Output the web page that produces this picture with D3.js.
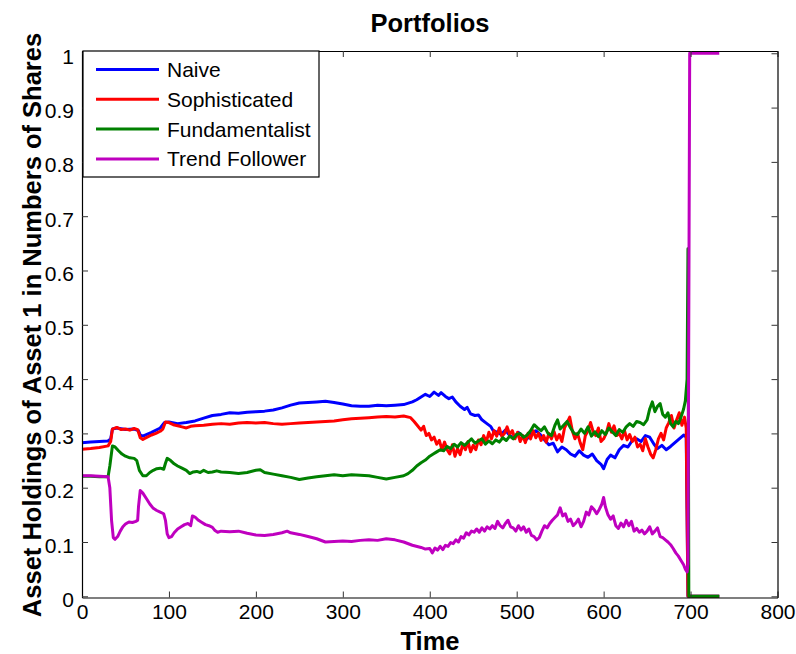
<!DOCTYPE html>
<html>
<head>
<meta charset="utf-8">
<script src="https://cdn.jsdelivr.net/npm/d3@7"></script>
<style>
  body { margin: 0; background: #fff; }
  text { font-family: "Liberation Sans", Arial, sans-serif; }
</style>
</head>
<body>
<div id="chart-area"></div>
<script>
// series as [time, holdings] pairs
var naive = [[0,.283],[10,.284],[20,.285],[30,.286],[33,.29],[35,.308],[40,.31],[50,.307],[60,.308],[65,.305],[67,.297],[70,.295],[80,.302],[90,.31],[95,.32],[100,.321],[110,.318],[120,.32],[130,.323],[140,.328],[150,.333],[160,.335],[170,.338],[180,.337],[190,.339],[200,.34],[210,.341],[220,.343],[230,.347],[240,.352],[250,.356],[260,.357],[270,.358],[280,.359],[290,.357],[300,.354],[310,.351],[320,.35],[330,.35],[340,.352],[350,.351],[360,.352],[370,.353],[380,.358],[385,.362],[390,.367],[395,.372],[400,.368],[405,.376],[410,.37],[413,.375],[418,.368],[422,.364],[426,.367],[430,.358],[435,.35],[440,.344],[443,.348],[447,.336],[452,.333],[456,.334],[460,.325],[465,.319],[470,.313],[473,.305],[478,.302],[482,.298],[487,.306],[492,.296],[497,.292],[502,.302],[507,.295],[512,.29],[517,.3],[522,.305],[527,.298],[532,.288],[537,.279],[542,.282],[547,.266],[552,.275],[557,.27],[562,.262],[567,.258],[572,.268],[577,.26],[582,.256],[587,.262],[592,.25],[597,.243],[600,.235],[604,.252],[608,.26],[613,.255],[618,.27],[623,.278],[628,.275],[633,.287],[638,.29],[643,.285],[648,.296],[653,.293],[658,.28],[662,.272],[667,.278],[672,.27],[677,.276],[682,.283],[687,.29],[692,.297],[695,.293],[697,0],[733,0]];

var sophisticated = [[0,.271],[10,.272],[20,.274],[30,.277],[33,.285],[35,.308],[40,.311],[45,.307],[50,.308],[55,.306],[60,.309],[64,.307],[67,.292],[70,.289],[75,.293],[80,.297],[85,.3],[90,.304],[93,.308],[96,.321],[100,.32],[105,.316],[110,.314],[115,.312],[120,.31],[125,.313],[130,.314],[140,.315],[150,.317],[160,.318],[170,.317],[180,.319],[190,.32],[200,.319],[210,.32],[220,.318],[230,.317],[240,.318],[250,.319],[260,.32],[270,.321],[280,.322],[290,.323],[300,.325],[310,.327],[320,.328],[330,.329],[340,.33],[350,.331],[360,.33],[370,.332],[378,.329],[382,.322],[386,.314],[390,.306],[393,.313],[396,.296],[399,.3],[402,.288],[405,.293],[408,.28],[411,.287],[414,.27],[417,.284],[420,.27],[423,.262],[426,.279],[429,.258],[432,.272],[435,.261],[438,.28],[441,.27],[444,.285],[447,.266],[450,.278],[453,.27],[456,.288],[459,.279],[462,.296],[465,.284],[468,.302],[471,.29],[474,.305],[477,.295],[480,.31],[483,.294],[486,.3],[489,.312],[492,.298],[495,.305],[498,.29],[501,.302],[504,.285],[507,.296],[510,.283],[513,.3],[516,.29],[519,.305],[522,.292],[525,.3],[528,.287],[531,.296],[534,.284],[537,.3],[540,.29],[543,.303],[546,.288],[549,.298],[552,.285],[555,.31],[558,.32],[561,.33],[564,.305],[567,.29],[570,.3],[573,.283],[576,.27],[579,.296],[582,.305],[585,.32],[588,.303],[591,.296],[594,.31],[597,.285],[600,.29],[603,.3],[606,.318],[609,.302],[612,.314],[615,.296],[618,.3],[621,.29],[624,.305],[627,.288],[630,.298],[633,.285],[636,.293],[639,.275],[642,.28],[645,.268],[648,.29],[651,.275],[654,.262],[657,.255],[660,.27],[663,.29],[666,.3],[669,.288],[672,.31],[675,.32],[678,.333],[681,.31],[684,.325],[687,.338],[690,.315],[693,.33],[695,.31],[697,0],[733,0]];

var fundamentalist = [[0,.221],[10,.221],[20,.22],[30,.22],[32,.24],[35,.277],[38,.275],[42,.268],[46,.262],[50,.258],[55,.255],[60,.254],[63,.25],[66,.232],[70,.222],[74,.222],[78,.228],[82,.232],[86,.235],[90,.236],[94,.234],[96,.245],[98,.254],[102,.25],[106,.244],[110,.24],[115,.236],[120,.232],[124,.226],[128,.229],[132,.23],[136,.228],[140,.232],[145,.228],[150,.229],[155,.231],[160,.229],[170,.228],[180,.226],[190,.228],[200,.232],[205,.233],[210,.228],[220,.225],[230,.222],[240,.219],[250,.215],[260,.218],[270,.22],[280,.222],[290,.224],[300,.222],[310,.224],[320,.223],[330,.222],[340,.219],[350,.216],[360,.219],[370,.222],[375,.226],[380,.232],[385,.24],[390,.246],[395,.251],[400,.258],[404,.262],[408,.266],[412,.27],[416,.268],[420,.276],[424,.272],[428,.28],[432,.275],[436,.283],[440,.278],[444,.284],[448,.29],[452,.282],[456,.286],[460,.29],[464,.28],[468,.286],[472,.281],[476,.288],[480,.284],[484,.292],[488,.287],[492,.295],[496,.29],[500,.298],[504,.3],[508,.293],[512,.297],[516,.305],[520,.316],[524,.31],[528,.305],[532,.312],[536,.3],[540,.296],[544,.315],[547,.325],[550,.308],[554,.315],[558,.322],[562,.31],[566,.3],[570,.298],[574,.308],[578,.3],[582,.312],[586,.295],[590,.303],[594,.294],[598,.305],[602,.298],[606,.31],[610,.303],[614,.296],[618,.307],[622,.302],[626,.312],[630,.318],[634,.313],[638,.322],[642,.32],[646,.316],[650,.325],[653,.345],[656,.358],[659,.34],[662,.35],[665,.355],[668,.335],[671,.33],[674,.338],[677,.318],[680,.312],[683,.322],[686,.318],[689,.33],[692,.345],[694,.36],[696,.4],[697,.64],[698,0],[733,0]];

var trendFollower = [[0,.222],[10,.222],[20,.221],[30,.22],[32,.2],[34,.14],[36,.108],[38,.105],[41,.11],[44,.12],[47,.128],[50,.133],[54,.137],[58,.136],[62,.138],[64,.14],[65,.165],[67,.195],[70,.19],[74,.18],[78,.17],[82,.162],[86,.158],[90,.155],[94,.152],[96,.14],[98,.115],[100,.108],[103,.11],[106,.117],[110,.124],[114,.128],[118,.132],[122,.134],[125,.13],[127,.148],[130,.146],[134,.14],[138,.136],[142,.132],[146,.13],[150,.127],[153,.121],[156,.118],[160,.12],[170,.119],[180,.12],[190,.116],[200,.113],[210,.112],[220,.114],[230,.117],[236,.12],[240,.117],[250,.114],[260,.11],[270,.106],[280,.1],[290,.101],[300,.102],[310,.101],[320,.103],[330,.104],[340,.103],[350,.106],[360,.104],[370,.1],[380,.094],[390,.09],[395,.087],[400,.088],[403,.08],[406,.089],[409,.085],[412,.092],[415,.086],[418,.094],[421,.092],[424,.099],[427,.097],[430,.104],[433,.1],[436,.11],[439,.107],[442,.117],[445,.113],[448,.12],[451,.118],[454,.124],[457,.118],[460,.126],[463,.12],[466,.128],[469,.124],[472,.13],[475,.125],[478,.138],[481,.13],[484,.126],[487,.134],[490,.14],[493,.128],[496,.126],[499,.12],[502,.13],[505,.122],[508,.128],[511,.118],[514,.124],[517,.112],[520,.11],[523,.104],[526,.108],[529,.12],[532,.13],[535,.126],[538,.134],[541,.14],[544,.145],[547,.15],[550,.163],[553,.148],[556,.152],[559,.138],[562,.142],[565,.13],[568,.135],[571,.142],[574,.128],[577,.138],[580,.155],[583,.15],[586,.165],[589,.16],[592,.152],[595,.16],[598,.17],[600,.182],[602,.165],[605,.15],[608,.142],[611,.148],[614,.13],[617,.125],[620,.135],[623,.128],[626,.14],[629,.13],[632,.138],[635,.12],[638,.125],[641,.118],[644,.122],[647,.115],[650,.12],[653,.128],[656,.115],[659,.12],[662,.126],[665,.11],[668,.108],[671,.104],[674,.1],[677,.095],[680,.088],[683,.08],[686,.074],[689,.066],[692,.058],[694,.05],[696,.045],[697,.06],[699,1],[733,1]];

var seriesNames = ["Naive", "Sophisticated", "Fundamentalist", "Trend Follower"];
var seriesColors = ["#0000ff", "#ff0000", "#008000", "#bf00bf"];
var seriesData = [naive, sophisticated, fundamentalist, trendFollower];

var xTicks = [0, 100, 200, 300, 400, 500, 600, 700, 800];
var yTicks = [0, 0.1, 0.2, 0.3, 0.4, 0.5, 0.6, 0.7, 0.8, 0.9, 1];

//============================GLOBALS============================
var W = 796, H = 654;
var plot = { left: 82, right: 777.5, top: 51, bottom: 597.5 };

var svg = d3.select("#chart-area")
    .append("svg")
    .attr("width", W)
    .attr("height", H);

var x = d3.scaleLinear()
    .domain([0, 800])
    .range([plot.left, plot.right]);

var y = d3.scaleLinear()
    .domain([-0.0022, 1.0042])
    .range([plot.bottom, plot.top]);

// lines, drawn in legend order so trend follower ends on top
var line = d3.line()
    .x(function(d) { return x(d[0]); })
    .y(function(d) { return y(d[1]); });

svg.append("g")
  .selectAll("path")
  .data(seriesData)
  .enter()
  .append("path")
    .attr("d", line)
    .attr("fill", "none")
    .attr("stroke", function(d, i) { return seriesColors[i]; })
    .attr("stroke-width", 3)
    .attr("stroke-linejoin", "round");

// axes, ticks point inward on all four sides
function styleAxis(sel) {
  sel.select(".domain").attr("stroke", "#000").attr("stroke-width", 1.2);
  sel.selectAll(".tick line").attr("stroke", "#333").attr("stroke-width", 1);
  sel.selectAll(".tick text")
    .attr("fill", "#000")
    .style("font-size", "21px")
    .style("font-family", "'Liberation Sans', Arial, sans-serif");
}

svg.append("g")
    .attr("transform", "translate(0," + plot.bottom + ")")
    .call(d3.axisBottom(x).tickValues(xTicks).tickSizeInner(-6).tickSizeOuter(0).tickPadding(7))
    .call(styleAxis);

svg.append("g")
    .attr("transform", "translate(0," + plot.top + ")")
    .call(d3.axisTop(x).tickValues(xTicks).tickSizeInner(-6).tickSizeOuter(0).tickFormat(""))
    .call(styleAxis);

var yLeft = svg.append("g")
    .attr("transform", "translate(" + plot.left + ",0)")
    .call(d3.axisLeft(y).tickValues(yTicks).tickSizeInner(-6).tickSizeOuter(0).tickPadding(8)
      .tickFormat(function(d) { return d3.format("~g")(d); }))
    .call(styleAxis);
yLeft.selectAll(".tick text").attr("dy", "0.48em");

svg.append("g")
    .attr("transform", "translate(" + plot.right + ",0)")
    .call(d3.axisRight(y).tickValues(yTicks).tickSizeInner(-6).tickSizeOuter(0).tickFormat(""))
    .call(styleAxis);

// titles
svg.append("text")
    .attr("x", 430)
    .attr("y", 32)
    .attr("text-anchor", "middle")
    .style("font-size", "25.5px")
    .style("font-weight", "bold")
    .text("Portfolios");

svg.append("text")
    .attr("x", 430)
    .attr("y", 650)
    .attr("text-anchor", "middle")
    .style("font-size", "25.5px")
    .style("font-weight", "bold")
    .text("Time");

svg.append("text")
    .attr("transform", "translate(41," + 325 + ") rotate(-90)")
    .attr("text-anchor", "middle")
    .style("font-size", "25.5px")
    .style("font-weight", "bold")
    .text("Asset Holdings of Asset 1 in Numbers of Shares");

// legend
var legend = svg.append("g");
legend.append("rect")
    .attr("x", 83)
    .attr("y", 51)
    .attr("width", 236)
    .attr("height", 126)
    .attr("fill", "#fff")
    .attr("stroke", "#000")
    .attr("stroke-width", 1.2);

var rows = legend.selectAll("g.row")
  .data(seriesNames)
  .enter()
  .append("g")
    .attr("class", "row")
    .attr("transform", function(d, i) { return "translate(0," + (69.5 + i * 29.8) + ")"; });

rows.append("line")
    .attr("x1", 96).attr("x2", 159)
    .attr("y1", 0).attr("y2", 0)
    .attr("stroke", function(d, i) { return seriesColors[i]; })
    .attr("stroke-width", 3);

rows.append("text")
    .attr("x", 167)
    .attr("y", 7.5)
    .style("font-size", "21px")
    .text(function(d) { return d; });
</script>
</body>
</html>
